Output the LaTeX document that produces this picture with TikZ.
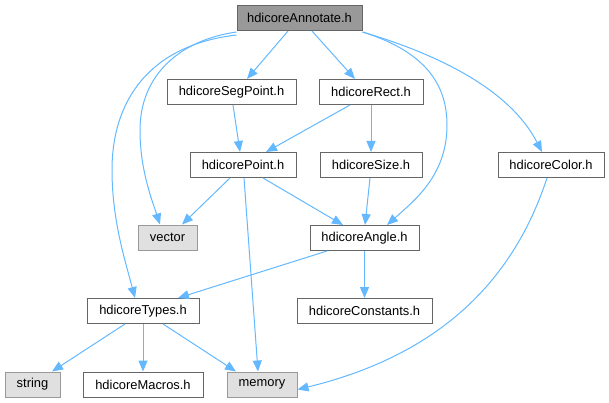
\documentclass[tikz,border=0pt]{standalone}
\usepackage{fontspec}
\setmainfont{Liberation Sans}
\usetikzlibrary{arrows.meta}
\definecolor{edgec}{HTML}{63B8FF}
\definecolor{bordc}{HTML}{666666}
\definecolor{lbord}{HTML}{999999}
\definecolor{lfill}{HTML}{E0E0E0}
\definecolor{hfill}{HTML}{999999}
\tikzset{
  fbox/.style={draw=bordc, fill=white, line width=1pt, minimum height=25pt, inner sep=0pt, font=\fontsize{12.9}{15}\selectfont},
  sysbox/.style={fbox, draw=lbord, fill=lfill},
  curbox/.style={fbox, fill=hfill},
  dep/.style={draw=edgec, line width=1pt, -{Triangle[length=11pt,width=9pt]}}
}
\begin{document}
\begin{tikzpicture}[x=1pt,y=-1pt]
\useasboundingbox (0,0) rectangle (609,403);
\node[curbox, minimum width=125pt] (annot) at (299.5,18) {hdicoreAnnotate.h};
\node[fbox, minimum width=129pt] (segp) at (231.5,92) {hdicoreSegPoint.h};
\node[fbox, minimum width=104pt] (rect) at (371,92) {hdicoreRect.h};
\node[fbox, minimum width=106pt] (point) at (243,165) {hdicorePoint.h};
\node[fbox, minimum width=102pt] (size) at (371,165) {hdicoreSize.h};
\node[fbox, minimum width=106pt] (color) at (551,165) {hdicoreColor.h};
\node[sysbox, minimum width=59pt] (vector) at (167.5,237.5) {vector};
\node[fbox, minimum width=109pt] (angle) at (364.5,238) {hdicoreAngle.h};
\node[fbox, minimum width=112pt] (types) at (143,311) {hdicoreTypes.h};
\node[fbox, minimum width=135pt] (consts) at (364.5,311) {hdicoreConstants.h};
\node[sysbox, minimum width=55pt] (string) at (32.5,384.5) {string};
\node[fbox, minimum width=120pt] (macros) at (143,384.5) {hdicoreMacros.h};
\node[sysbox, minimum width=70pt] (memory) at (262,384.5) {memory};

% from annotate
\draw[dep] ([xshift=-11.5pt]annot.south) -- ([xshift=15.5pt]segp.north);
\draw[dep] ([xshift=12.5pt]annot.south) -- ([xshift=-16pt]rect.north);
\draw[dep] ([yshift=-1pt]annot.south west) .. controls (180,40) and (140,75) .. (140,130) .. controls (140,170) and (152,200) .. ([xshift=-7.5pt]vector.north);
\draw[dep] ([yshift=-4pt]annot.south west) .. controls (150,45) and (112,100) .. (112,170) .. controls (112,220) and (125,260) .. ([xshift=-8pt]types.north);
\draw[dep] ([yshift=-1pt]annot.south east) .. controls (420,50) and (447,80) .. (447,125) .. controls (447,175) and (415,200) .. ([xshift=22.5pt]angle.north);
\draw[dep] ([yshift=-1pt]annot.south east) .. controls (440,55) and (510,90) .. ([xshift=-9pt]color.north);

% second level
\draw[dep] ([xshift=1.5pt]segp.south) -- ([xshift=-3pt]point.north);
\draw[dep] ([xshift=-21pt]rect.south) -- ([xshift=23pt]point.north);
\draw[dep] (rect.south) -- (size.north);
\draw[dep] ([xshift=-13pt]point.south) -- ([xshift=14.5pt]vector.north);
\draw[dep] ([xshift=1pt]point.south) -- ([xshift=-4pt]memory.north);
\draw[dep] ([xshift=20pt]point.south) -- ([xshift=-21.5pt]angle.north);
\draw[dep] ([xshift=-1pt]size.south) -- ([xshift=0.5pt]angle.north);
\draw[dep] ([xshift=-37.5pt]angle.south) -- ([xshift=35pt]types.north);
\draw[dep] (angle.south) -- (consts.north);
\draw[dep] ([xshift=-18pt]types.south) -- ([xshift=19.5pt]string.north);
\draw[dep] (types.south) -- (macros.north);
\draw[dep] ([xshift=20pt]types.south) -- ([xshift=-26pt]memory.north);
\draw[dep] ([xshift=-4pt]color.south) .. controls (520,260) and (460,350) .. ([yshift=-5pt]memory.east);
\end{tikzpicture}
\end{document}
